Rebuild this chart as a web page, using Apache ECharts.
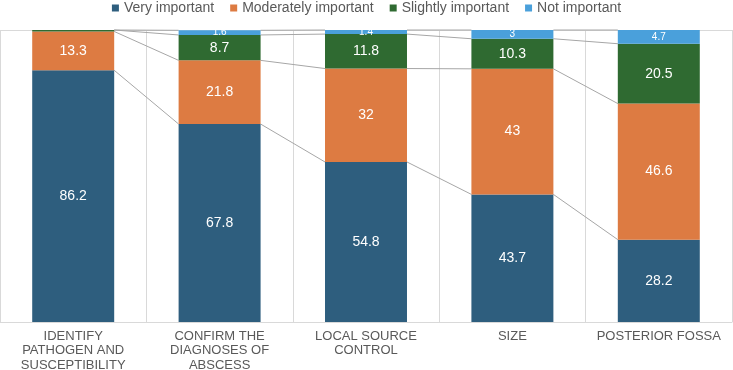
<!DOCTYPE html>
<html>
<head>
<meta charset="utf-8">
<script src="https://cdn.jsdelivr.net/npm/echarts@6/dist/echarts.min.js"></script>
<style>
  html, body { margin: 0; padding: 0; background: #fff; }
  #chart { width: 733px; height: 370px; }
</style>
</head>
<body>
<div id="chart"></div>
<script>
// categories and series values (percent)
var categories = [
  'IDENTIFY\nPATHOGEN AND\nSUSCEPTIBILITY',
  'CONFIRM THE\nDIAGNOSES OF\nABSCESS',
  'LOCAL SOURCE\nCONTROL',
  'SIZE',
  'POSTERIOR FOSSA'
]
var veryImportant = [86.2, 67.8, 54.8, 43.7, 28.2]
var moderatelyImportant = [13.3, 21.8, 32, 43, 46.6]
var slightlyImportant = [0.5, 8.7, 11.8, 10.3, 20.5]
var notImportant = [0, 1.6, 1.4, 3, 4.7]

var seriesNames = ['Very important', 'Moderately important', 'Slightly important', 'Not important']
var seriesData = [veryImportant, moderatelyImportant, slightlyImportant, notImportant]
var colors = ['#2E5E7E', '#DD7B42', '#2F6A31', '#4AA0DB']

var chart = echarts.init(document.getElementById('chart'))

function toItems(arr) {
  return arr.map(function (v) {
    return {
      value: v,
      label: { fontSize: v < 5 ? 10 : 14 }
    }
  })
}

var barSeries = seriesData.map(function (arr, idx) {
  return {
    name: seriesNames[idx],
    type: 'bar',
    stack: 'total',
    barWidth: '56%',
    itemStyle: { color: colors[idx] },
    label: {
      show: true,
      color: '#fff',
      fontFamily: 'Liberation Sans',
      formatter: function (p) {
        return p.value < 1 ? '' : p.value
      }
    },
    data: toItems(arr),
    z: 3
  }
})

// series lines between adjacent stacks (Excel style)
var cumulative = categories.map(function (c, i) {
  var sum = 0
  return seriesData.map(function (arr) {
    sum += arr[i]
    return sum
  })
})

var seriesLines = {
  type: 'custom',
  silent: true,
  z: 2,
  data: [0, 1, 2, 3],
  renderItem: function (params, api) {
    var i = api.value(0)
    var band = api.size([1, 0])[0]
    var half = band * 0.28
    var children = cumulative[i].map(function (v, k) {
      var p1 = api.coord([i, v])
      var p2 = api.coord([i + 1, cumulative[i + 1][k]])
      return {
        type: 'line',
        shape: { x1: p1[0] + half, y1: p1[1], x2: p2[0] - half, y2: p2[1] },
        style: { stroke: '#a6a6a6', lineWidth: 1 }
      }
    })
    return { type: 'group', children: children }
  },
  encode: { x: 0 }
}

chart.setOption({
  animation: false,
  legend: {
    top: 1,
    left: 'center',
    padding: 0,
    icon: 'rect',
    itemWidth: 7,
    itemHeight: 7,
    itemGap: 16,
    textStyle: { color: '#595959', fontSize: 14, fontFamily: 'Liberation Sans' },
    data: seriesNames
  },
  grid: { left: 0, right: 1, top: 30, bottom: 48, outerBoundsMode: 'none' },
  xAxis: {
    type: 'category',
    data: categories,
    axisLine: { lineStyle: { color: '#d9d9d9' } },
    axisTick: { show: false },
    splitLine: { show: true, lineStyle: { color: '#d9d9d9' } },
    axisLabel: {
      color: '#595959',
      fontSize: 13,
      fontFamily: 'Liberation Sans',
      lineHeight: 14.5,
      margin: 7,
      interval: 0
    }
  },
  yAxis: {
    type: 'value',
    min: 0,
    max: 100,
    interval: 100,
    axisLabel: { show: false },
    axisLine: { show: false },
    splitLine: { lineStyle: { color: '#d9d9d9' } }
  },
  series: barSeries.concat([seriesLines])
})
</script>
</body>
</html>
